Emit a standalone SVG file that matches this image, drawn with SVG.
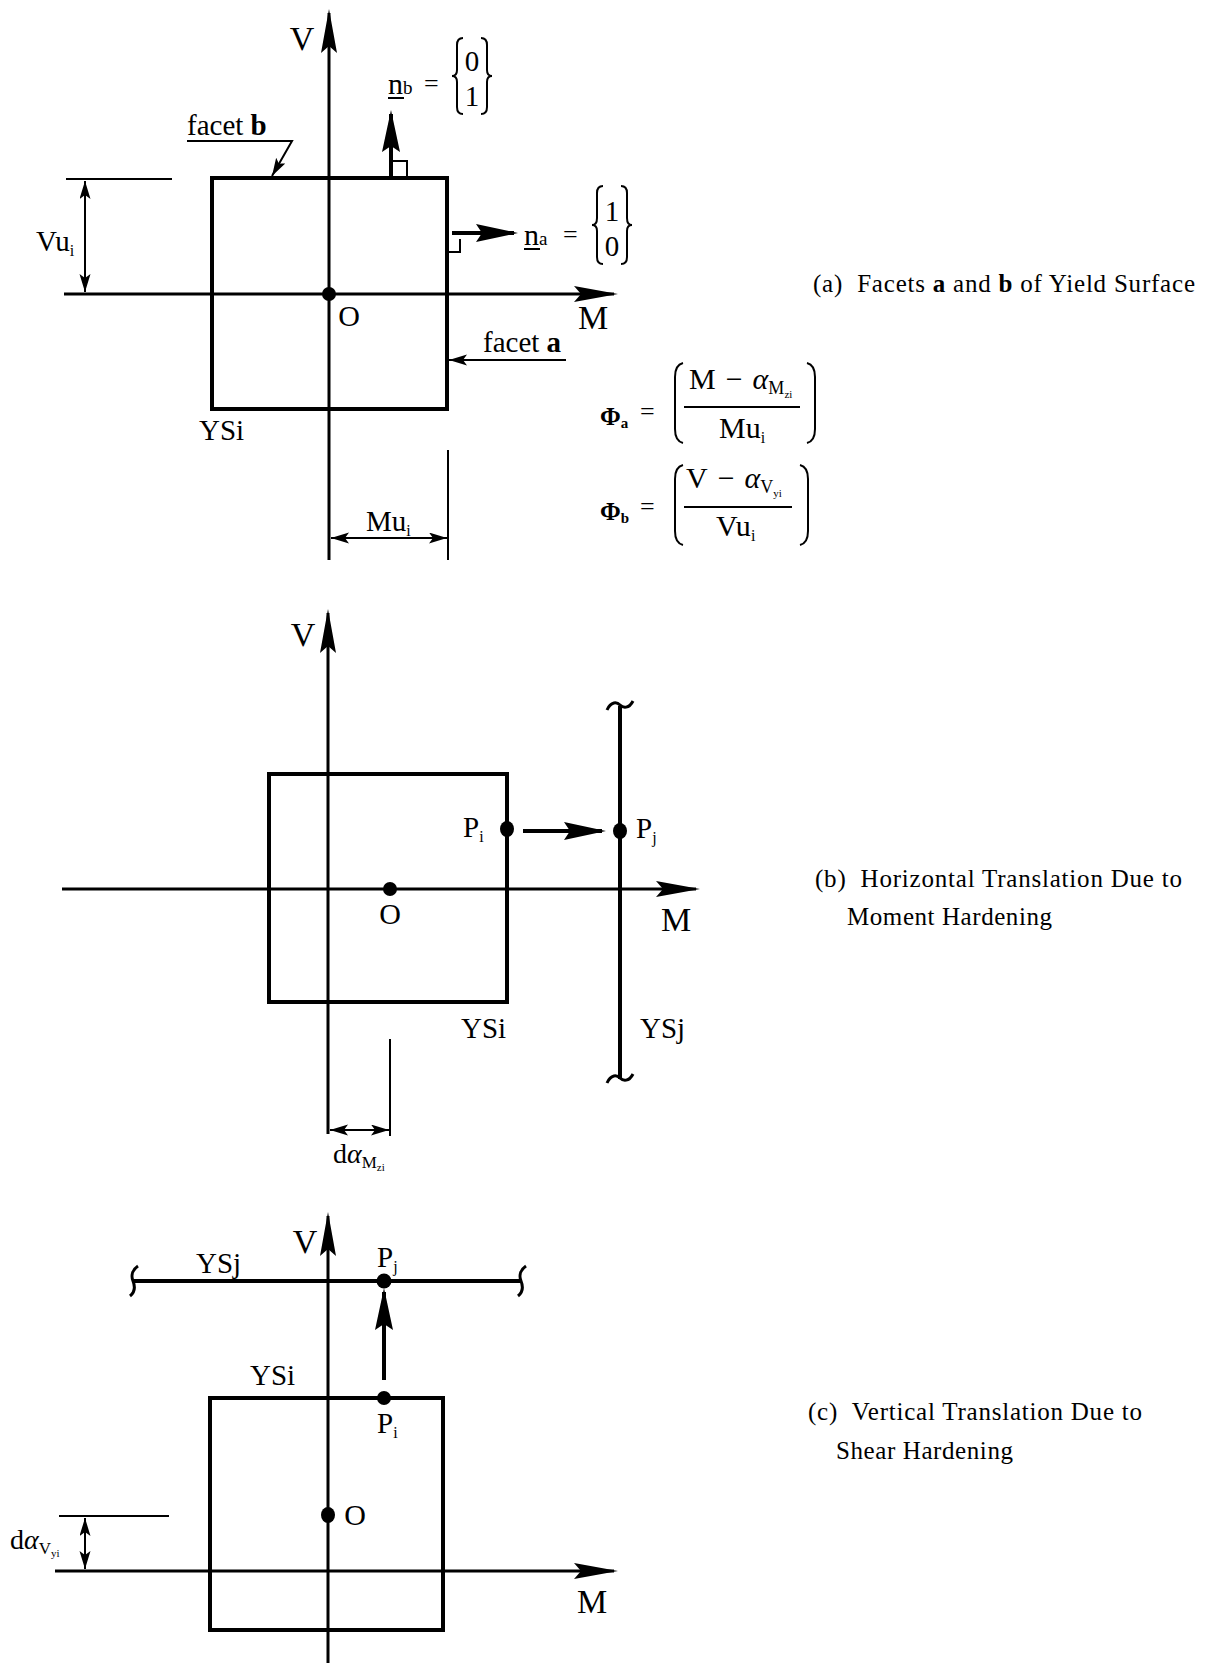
<svg xmlns="http://www.w3.org/2000/svg" width="1209" height="1663" viewBox="0 0 1209 1663">
<style>
text{font-family:"Liberation Serif","Times New Roman",serif;fill:#000}
.lbl{font-size:34px}
.o{font-size:30px}
.sm{font-size:29px}
.fx{font-size:30px}
.cap{font-size:25px}
.ax{stroke:#000;stroke-width:3;fill:none}
.box{stroke:#000;stroke-width:4;fill:none}
.thin{stroke:#000;stroke-width:2;fill:none}
.vec{stroke:#000;stroke-width:4;fill:none}
.dot{fill:#000}
</style>
<defs>
<marker id="ah" markerUnits="userSpaceOnUse" markerWidth="44" markerHeight="18" refX="40" refY="8" orient="auto-start-reverse"><path d="M0,0 L44,8 L0,16 L7,8 z" fill="#000"/></marker>
<marker id="vh" markerUnits="userSpaceOnUse" markerWidth="42" markerHeight="20" refX="38" refY="9" orient="auto-start-reverse"><path d="M0,0 L42,9 L0,18 L6,9 z" fill="#000"/></marker>
<marker id="dh" markerUnits="userSpaceOnUse" markerWidth="18" markerHeight="12" refX="18" refY="5.5" orient="auto-start-reverse"><path d="M0,0 L18,5.5 L0,11 L4,5.5 z" fill="#000"/></marker>
</defs>
<rect width="1209" height="1663" fill="#fff"/>

<!-- ===== Panel (a) ===== -->
<g id="a-axes">
<line class="ax" x1="329" y1="560" x2="329" y2="13" marker-end="url(#ah)"/>
<line class="ax" x1="64" y1="294" x2="614" y2="294" marker-end="url(#ah)"/>
<text class="lbl" x="302" y="50" text-anchor="middle">V</text>
<text class="lbl" x="593" y="329" text-anchor="middle">M</text>
</g>
<g id="a-YSi">
<rect class="box" x="212" y="178" width="235" height="231"/>
<text class="sm" x="199" y="440">YSi</text>
</g>
<g id="a-O">
<circle class="dot" cx="329" cy="294" r="7"/>
<text class="o" x="349" y="326" text-anchor="middle">O</text>
</g>
<g id="a-nb">
<text x="388" y="94" font-size="30">n<tspan font-size="19" dy="0">b</tspan></text>
<line class="thin" x1="388" y1="98" x2="404" y2="98" stroke-width="1.5"/>
<text x="424" y="92" font-size="26">=</text>
<path class="thin" d="M463,38 Q457,38 457,45 L457,70 Q457,76 452,76 Q457,76 457,82 L457,107 Q457,114 463,114"/>
<path class="thin" d="M481,38 Q487,38 487,45 L487,70 Q487,76 492,76 Q487,76 487,82 L487,107 Q487,114 481,114"/>
<text class="sm" x="472" y="71" text-anchor="middle">0</text>
<text class="sm" x="472" y="106" text-anchor="middle">1</text>
</g>
<g id="a-na">
<text x="524" y="245" font-size="30">n<tspan font-size="19">a</tspan></text>
<line class="thin" x1="524" y1="249" x2="540" y2="249" stroke-width="1.5"/>
<text x="563" y="243" font-size="26">=</text>
<path class="thin" d="M603,186 Q597,186 597,193 L597,218 Q597,225 592,225 Q597,225 597,231 L597,257 Q597,264 603,264"/>
<path class="thin" d="M621,186 Q627,186 627,193 L627,218 Q627,225 632,225 Q627,225 627,231 L627,257 Q627,264 621,264"/>
<text class="sm" x="612" y="221" text-anchor="middle">1</text>
<text class="sm" x="612" y="256" text-anchor="middle">0</text>
</g>
<g id="a-facet-b">
<text class="sm" x="187" y="135">facet <tspan font-weight="bold">b</tspan></text>
</g>
<g id="a-facet-a">
<text class="sm" x="483" y="352">facet <tspan font-weight="bold">a</tspan></text>
</g>
<g id="a-Vu">
<text class="sm" x="36" y="251">Vu<tspan font-size="16" dy="5">i</tspan></text>
</g>
<g id="a-Mu">
<text class="sm" x="366" y="531">Mu<tspan font-size="16" dy="5">i</tspan></text>
</g>
<g id="a-caption">
<text class="cap" x="813" y="292" textLength="382" lengthAdjust="spacing" xml:space="preserve">(a)  Facets <tspan font-weight="bold">a</tspan> and <tspan font-weight="bold">b</tspan> of Yield Surface</text>
</g>
<g id="a-phi-a">
<text x="600" y="425" font-weight="bold" font-size="25">Φ<tspan font-size="15" dy="3">a</tspan></text>
<text x="640" y="420" font-size="26">=</text>
<path class="thin" d="M683,363 Q675,365 675,377 L675,429 Q675,441 683,443"/>
<path class="thin" d="M807,363 Q815,365 815,377 L815,429 Q815,441 807,443"/>
<text class="fx" x="689" y="389">M<tspan dx="10">−</tspan><tspan dx="10" font-style="italic">α</tspan><tspan font-size="18" dy="5">M</tspan><tspan font-size="11" dy="4">zi</tspan></text>
<line class="thin" x1="684" y1="407" x2="800" y2="407"/>
<text class="fx" x="719" y="438">Mu<tspan font-size="16" dy="5">i</tspan></text>
</g>
<g id="a-phi-b">
<text x="600" y="520" font-weight="bold" font-size="25">Φ<tspan font-size="15" dy="3">b</tspan></text>
<text x="640" y="515" font-size="26">=</text>
<path class="thin" d="M683,465 Q675,467 675,479 L675,531 Q675,543 683,545"/>
<path class="thin" d="M800,465 Q808,467 808,479 L808,531 Q808,543 800,545"/>
<text class="fx" x="686" y="488">V<tspan dx="10">−</tspan><tspan dx="10" font-style="italic">α</tspan><tspan font-size="18" dy="5">V</tspan><tspan font-size="11" dy="4">yi</tspan></text>
<line class="thin" x1="684" y1="507" x2="792" y2="507"/>
<text class="fx" x="716" y="536">Vu<tspan font-size="16" dy="5">i</tspan></text>
</g>

<!-- ===== Panel (b) ===== -->
<g id="b-axes">
<line class="ax" x1="328" y1="1134" x2="328" y2="613" marker-end="url(#ah)"/>
<line class="ax" x1="62" y1="889" x2="696" y2="889" marker-end="url(#ah)"/>
<text class="lbl" x="303" y="646" text-anchor="middle">V</text>
<text class="lbl" x="676" y="931" text-anchor="middle">M</text>
</g>
<g id="b-YSi">
<rect class="box" x="269" y="774" width="238" height="228"/>
<text class="sm" x="461" y="1038">YSi</text>
</g>
<g id="b-YSj">
<line class="box" x1="620" y1="706" x2="620" y2="1079" stroke-width="3.5"/>
<path class="ax" d="M607,710 C611,701 617,702 620,705 C623,708 629,709 633,701"/>
<path class="ax" d="M607,1083 C611,1074 617,1075 620,1078 C623,1081 629,1082 633,1074"/>
<text class="sm" x="640" y="1038">YSj</text>
</g>
<g id="b-O">
<circle class="dot" cx="390" cy="889" r="7"/>
<text class="o" x="390" y="924" text-anchor="middle">O</text>
</g>
<g id="b-Pi">
<ellipse class="dot" cx="507" cy="829" rx="7" ry="8"/>
<text class="sm" x="463" y="837">P<tspan font-size="16" dy="5">i</tspan></text>
</g>
<g id="b-Pj">
<ellipse class="dot" cx="620" cy="831" rx="7" ry="8"/>
<text class="sm" x="636" y="838">P<tspan font-size="16" dy="5">j</tspan></text>
</g>
<g id="b-dalpha">
<text x="333" y="1163" font-size="28">d<tspan font-style="italic">α</tspan><tspan font-size="17" dy="5">M</tspan><tspan font-size="11" dy="3">zi</tspan></text>
</g>
<g id="b-caption">
<text class="cap" x="815" y="887" textLength="367" lengthAdjust="spacing" xml:space="preserve">(b)  Horizontal Translation Due to</text>
<text class="cap" x="847" y="925" textLength="205" lengthAdjust="spacing">Moment Hardening</text>
</g>

<!-- ===== Panel (c) ===== -->
<g id="c-axes">
<line class="ax" x1="328" y1="1663" x2="328" y2="1216" marker-end="url(#ah)"/>
<line class="ax" x1="55" y1="1571" x2="614" y2="1571" marker-end="url(#ah)"/>
<text class="lbl" x="305" y="1253" text-anchor="middle">V</text>
<text class="lbl" x="592" y="1613" text-anchor="middle">M</text>
</g>
<g id="c-YSj">
<line class="box" x1="133" y1="1281" x2="521" y2="1281" stroke-width="3.5"/>
<path class="ax" d="M138,1266 C132,1270 131,1276 133,1281 C135,1286 135,1292 130,1296"/>
<path class="ax" d="M526,1266 C520,1270 519,1276 521,1281 C523,1286 523,1292 518,1296"/>
<text class="sm" x="196" y="1273">YSj</text>
</g>
<g id="c-YSi">
<rect class="box" x="210" y="1398" width="233" height="232"/>
<text class="sm" x="250" y="1385">YSi</text>
</g>
<g id="c-Pj">
<circle class="dot" cx="384" cy="1281" r="7.5"/>
<text class="sm" x="377" y="1267">P<tspan font-size="16" dy="5">j</tspan></text>
</g>
<g id="c-Pi">
<circle class="dot" cx="384" cy="1398" r="7"/>
<text class="sm" x="377" y="1433">P<tspan font-size="16" dy="5">i</tspan></text>
</g>
<g id="c-O">
<ellipse class="dot" cx="328" cy="1515" rx="7" ry="8"/>
<text class="o" x="355" y="1525" text-anchor="middle">O</text>
</g>
<g id="c-dalpha">
<text x="10" y="1549" font-size="28">d<tspan font-style="italic">α</tspan><tspan font-size="17" dy="5">V</tspan><tspan font-size="11" dy="3">yi</tspan></text>
</g>
<g id="c-caption">
<text class="cap" x="808" y="1420" textLength="334" lengthAdjust="spacing" xml:space="preserve">(c)  Vertical Translation Due to</text>
<text class="cap" x="836" y="1459" textLength="177" lengthAdjust="spacing">Shear Hardening</text>
</g>

<!-- ===== Connectors ===== -->
<g id="connectors">
<!-- panel a -->
<line class="vec" x1="391" y1="176" x2="391" y2="114" marker-end="url(#vh)"/>
<polyline class="thin" points="391,161 407,161 407,176"/>
<line class="vec" x1="452" y1="233" x2="514" y2="233" marker-end="url(#vh)"/>
<polyline class="thin" points="447,252 460,252 460,239"/>
<polyline class="thin" points="187,141 292,141 272,176" marker-end="url(#dh)"/>
<line class="thin" x1="566" y1="360" x2="449" y2="360" marker-end="url(#dh)"/>
<line class="thin" x1="66" y1="179" x2="172" y2="179"/>
<line class="thin" x1="85" y1="181" x2="85" y2="292" marker-start="url(#dh)" marker-end="url(#dh)"/>
<line class="thin" x1="448" y1="450" x2="448" y2="560"/>
<line class="thin" x1="331" y1="538" x2="447" y2="538" marker-start="url(#dh)" marker-end="url(#dh)"/>
<!-- panel b -->
<line class="vec" x1="523" y1="831" x2="602" y2="831" marker-end="url(#vh)"/>
<line class="thin" x1="390" y1="1039" x2="390" y2="1136"/>
<line class="thin" x1="330" y1="1130" x2="389" y2="1130" marker-start="url(#dh)" marker-end="url(#dh)"/>
<!-- panel c -->
<line class="vec" x1="384" y1="1380" x2="384" y2="1292" marker-end="url(#vh)"/>
<line class="thin" x1="59" y1="1516" x2="169" y2="1516"/>
<line class="thin" x1="85" y1="1518" x2="85" y2="1569" marker-start="url(#dh)" marker-end="url(#dh)"/>
</g>
</svg>
